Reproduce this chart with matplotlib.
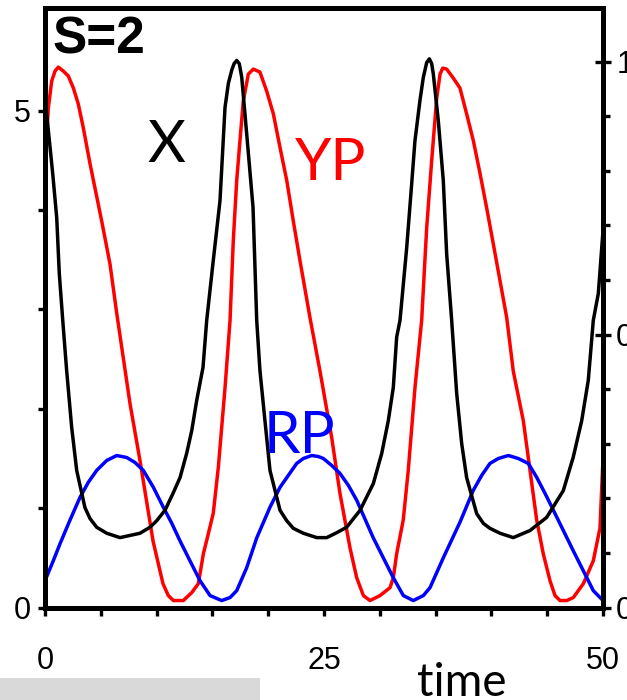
import numpy as np
import matplotlib
matplotlib.use('Agg')
import matplotlib.pyplot as plt
from matplotlib.patches import Rectangle

# time series for S=2 (time, value); X uses the right axis, YP and RP the left one
t_x = [0.0, 0.09, 0.69, 1.05, 1.28, 1.59, 1.94, 2.39, 2.84, 3.58, 4.03, 4.63, 5.53, 6.72,
       7.62, 8.51, 9.41, 10.01, 10.75, 11.47, 12.10, 12.69, 13.15, 13.59, 14.16, 14.49,
       15.08, 15.68, 16.13, 16.43, 16.73, 16.94, 17.18, 17.41, 17.63, 18.07, 18.64, 18.97,
       19.26, 19.71, 20.16, 21.06, 21.66, 22.25, 23.15, 24.35, 25.24, 26.14, 27.03, 28.23,
       29.42, 30.17, 30.76, 31.21, 31.51, 31.81, 32.41, 32.86, 33.15, 33.60, 33.90, 34.20,
       34.44, 34.65, 34.79, 35.24, 35.69, 35.99, 36.44, 36.89, 37.34, 37.78, 38.68, 39.28,
       39.87, 40.77, 41.96, 43.46, 44.95, 46.44, 47.33, 48.09, 48.68, 48.98, 49.13, 49.58,
       50.0]
x_val = [0.945, 0.916, 0.795, 0.714, 0.612, 0.526, 0.434, 0.330, 0.251, 0.183, 0.163, 0.147,
         0.136, 0.128, 0.132, 0.136, 0.147, 0.159, 0.178, 0.209, 0.238, 0.282, 0.324, 0.379,
         0.440, 0.526, 0.636, 0.745, 0.916, 0.960, 0.984, 0.996, 1.002, 0.996, 0.971, 0.868,
         0.733, 0.526, 0.434, 0.342, 0.251, 0.178, 0.159, 0.145, 0.136, 0.128, 0.128, 0.137,
         0.147, 0.178, 0.227, 0.282, 0.342, 0.403, 0.495, 0.526, 0.659, 0.777, 0.855, 0.929,
         0.971, 0.998, 1.005, 0.996, 0.978, 0.892, 0.782, 0.648, 0.526, 0.392, 0.300, 0.238,
         0.172, 0.154, 0.145, 0.136, 0.128, 0.141, 0.165, 0.214, 0.275, 0.342, 0.416, 0.489,
         0.526, 0.575, 0.690]

t_yp = [0.0, 0.30, 0.60, 0.90, 1.19, 1.64, 2.09, 2.54, 2.98, 3.43, 4.03, 5.08, 5.82, 6.43,
        7.62, 8.51, 9.68, 10.57, 11.05, 11.50, 12.39, 13.15, 13.74, 14.19, 14.63, 15.08,
        15.53, 15.83, 16.13, 16.58, 16.87, 17.18, 17.47, 17.77, 18.22, 18.67, 19.26, 19.86,
        20.46, 21.06, 21.66, 22.25, 22.85, 23.74, 24.64, 25.69, 26.43, 27.33, 27.93, 28.53,
        29.12, 30.02, 30.92, 31.21, 31.51, 32.10, 32.55, 33.15, 33.75, 34.20, 34.65, 35.10,
        35.40, 35.64, 35.99, 36.58, 37.18, 37.78, 38.38, 38.98, 39.58, 40.17, 40.77, 41.37,
        41.96, 42.86, 43.46, 44.06, 44.65, 45.25, 45.70, 46.15, 46.75, 47.34, 48.24, 49.13,
        49.73, 50.0]
yp_val = [4.50, 5.03, 5.30, 5.40, 5.44, 5.40, 5.35, 5.23, 5.07, 4.83, 4.47, 3.89, 3.46, 2.96,
          2.05, 1.48, 0.67, 0.24, 0.12, 0.07, 0.07, 0.15, 0.24, 0.54, 0.74, 0.95, 1.41, 1.81,
          2.21, 2.89, 3.69, 4.30, 4.70, 5.10, 5.37, 5.42, 5.39, 5.20, 4.97, 4.63, 4.30, 3.89,
          3.49, 2.92, 2.38, 1.71, 1.15, 0.60, 0.30, 0.12, 0.07, 0.12, 0.20, 0.30, 0.54, 0.88,
          1.38, 2.21, 2.89, 3.82, 4.50, 5.13, 5.37, 5.43, 5.42, 5.33, 5.23, 4.97, 4.70, 4.37,
          4.02, 3.66, 3.29, 2.92, 2.38, 1.88, 1.38, 0.88, 0.54, 0.27, 0.12, 0.07, 0.07, 0.10,
          0.24, 0.47, 0.80, 1.50]

t_rp = [0.0, 0.74, 1.34, 2.24, 3.14, 3.88, 4.63, 5.53, 6.43, 7.32, 8.06, 8.81, 9.71, 10.60,
        11.35, 12.10, 12.99, 13.89, 14.79, 15.83, 16.58, 17.18, 18.07, 18.97, 20.16, 21.06,
        22.55, 23.15, 23.90, 24.49, 24.94, 25.69, 26.43, 27.18, 27.93, 29.42, 31.21, 32.11,
        33.00, 33.90, 34.50, 35.69, 37.19, 38.38, 39.13, 39.87, 40.62, 41.52, 42.41, 43.31,
        44.06, 44.80, 45.55, 47.34, 49.13, 50.0]
rp_val = [0.27, 0.47, 0.64, 0.88, 1.11, 1.26, 1.38, 1.48, 1.53, 1.51, 1.46, 1.38, 1.21, 1.01,
          0.85, 0.67, 0.47, 0.27, 0.12, 0.07, 0.10, 0.17, 0.40, 0.70, 1.01, 1.21, 1.45, 1.50,
          1.53, 1.52, 1.50, 1.43, 1.35, 1.23, 1.08, 0.70, 0.30, 0.12, 0.07, 0.12, 0.20, 0.50,
          0.86, 1.18, 1.33, 1.45, 1.50, 1.53, 1.50, 1.45, 1.31, 1.15, 0.98, 0.57, 0.17, 0.07]

x_ticks = [0, 25, 50]
left_ticks = [0, 5]
right_ticks = [0, 0.5, 1]
right_labels = ['0', '0.5', '1']

W, H = 627, 700
fig = plt.figure(figsize=(W / 100, H / 100), dpi=100)
ax = fig.add_axes([45 / W, 1 - 607.5 / H, 558 / W, 600 / H])
ax2 = ax.twinx()

tick_font = ['Liberation Sans Narrow', 'Liberation Sans', 'DejaVu Sans']

ax.plot(t_yp, yp_val, color='#ff0000', lw=2.5, solid_joinstyle='round', zorder=3)
ax.plot(t_rp, rp_val, color='#0000ff', lw=2.5, solid_joinstyle='round', zorder=3)
ax2.plot(t_x, x_val, color='black', lw=2.5, solid_joinstyle='round', zorder=2)

ax.set_xlim(0, 50)
ax.set_ylim(0, 6.04)
ax2.set_ylim(0, 1.099)

for a in (ax, ax2):
    for side in ['bottom', 'right', 'top', 'left']:
        a.spines[side].set_linewidth(3.6)
        a.spines[side].set_capstyle('projecting')

ax.set_xticks(x_ticks)
ax.set_xticks(np.arange(0, 51, 5), minor=True)
ax.set_yticks(left_ticks)
ax.set_yticks(np.arange(0, 6, 1), minor=True)
ax2.set_yticks(right_ticks)
ax2.set_yticklabels(right_labels)
ax2.set_yticks(np.arange(0, 1.01, 0.1), minor=True)

ax.tick_params(axis='x', which='both', direction='out', length=6, width=2.4, pad=22)
ax.tick_params(axis='y', which='both', direction='out', length=5, width=2.4, pad=5)
ax2.tick_params(axis='y', which='major', direction='inout', length=11, width=2.4, pad=4)
ax2.tick_params(axis='y', which='minor', direction='out', length=5, width=2.4)

for lab in ax.get_xticklabels() + ax.get_yticklabels() + ax2.get_yticklabels():
    lab.set_family(tick_font)
    lab.set_fontsize(22)

# panel title and curve names
fig.text(53 / W, 1 - 54 / H, 'S=2', fontsize=37, fontweight='bold',
         family=['Liberation Sans', 'DejaVu Sans'], va='baseline', ha='left')
fig.text(166 / W, 1 - 162 / H, 'X', fontsize=42, color='black',
         family=['Lato', 'DejaVu Sans'], va='baseline', ha='center')
fig.text(331 / W, 1 - 180 / H, 'YP', fontsize=42, color='#ff0000',
         family=['Lato', 'DejaVu Sans'], va='baseline', ha='center')
fig.text(299 / W, 1 - 453 / H, 'RP', fontsize=42, color='#0000ff',
         family=['Lato', 'DejaVu Sans'], va='baseline', ha='center')

fig.text(462 / W, 1 - 696 / H, 'time', fontsize=33,
         family=['Lato', 'DejaVu Sans'], va='baseline', ha='center')

fig.patches.append(Rectangle((0, 0), 260 / W, 22 / H, transform=fig.transFigure,
                             facecolor='#d9d9d9', edgecolor='none', zorder=0))

fig.savefig('out.png', dpi=100)
